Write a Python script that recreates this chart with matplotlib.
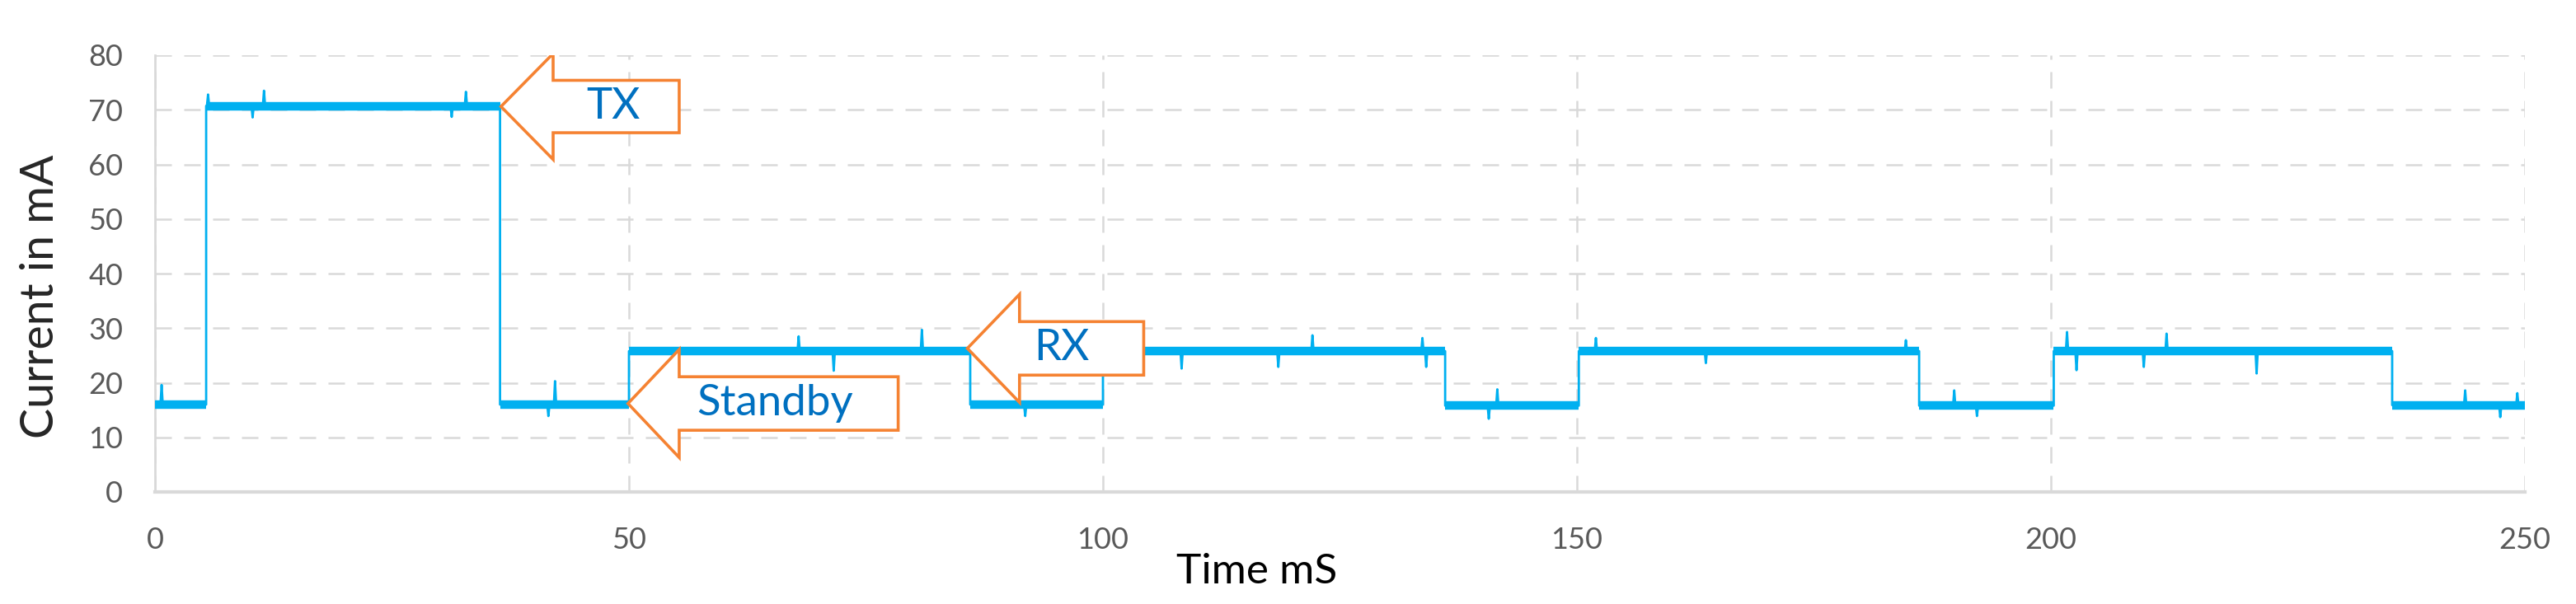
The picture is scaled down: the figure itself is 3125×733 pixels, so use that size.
import numpy as np
import matplotlib.pyplot as plt
from matplotlib.patches import Polygon

plt.rcParams.update({"font.family": ["Lato", "DejaVu Sans"]})

TRACE, ORANGE, LABEL, GRID, TICK = "#00B0F0", "#F58232", "#0070C0", "#D9D9D9", "#595959"

# --- data ---
# step edges (ms) and the current level (mA) held between them
edges = [0.0, 5.4, 36.4, 50.0, 86.0, 100.0, 136.1, 150.2, 186.1, 200.3, 236.0, 250.0]
levels = [16.0, 70.7, 16.0, 25.8, 16.0, 25.8, 15.8, 25.8, 15.8, 25.8, 15.9]
# the visible noise spikes / dips (ms, mA)
spike_t = [0.7, 5.6, 10.3, 11.5, 31.3, 32.8, 41.5, 42.2, 67.9, 71.6, 80.9, 91.8,
           108.3, 118.5, 122.1, 133.7, 134.1, 140.7, 141.6, 152.0, 163.6, 184.7,
           189.8, 192.2, 201.7, 202.7, 209.8, 212.2, 221.7, 243.7, 247.4, 249.2]
spike_v = [19.6, 72.8, 68.6, 73.5, 68.7, 73.3, 13.9, 20.3, 28.5, 22.2, 29.7, 13.9,
           22.6, 22.9, 28.7, 28.2, 22.9, 13.4, 18.8, 28.2, 23.6, 27.8,
           18.6, 13.9, 29.3, 22.3, 22.9, 29.0, 21.7, 18.6, 13.7, 18.1]
y_ticks = [0, 10, 20, 30, 40, 50, 60, 70, 80]
x_ticks = [0, 50, 100, 150, 200, 250]

# build the trace: flat segments with the spikes dropped in
xs, ys = [], []
for i, lvl in enumerate(levels):
    a, b = edges[i], edges[i + 1]
    xs.append(a); ys.append(lvl)
    for t, v in sorted(zip(spike_t, spike_v)):
        if a < t < b:
            xs += [t - 0.12, t, t + 0.12]; ys += [lvl, v, lvl]
    xs.append(b); ys.append(lvl)

fig = plt.figure(figsize=(31.25, 7.33), dpi=100)
ax = fig.add_axes([188 / 3125, 1 - 597 / 733, (3063 - 188) / 3125, (597 - 67) / 733])

for i, lvl in enumerate(levels):
    ax.plot([edges[i], edges[i + 1]], [lvl, lvl], color=TRACE, lw=7.5, solid_capstyle="butt", zorder=3)
ax.plot(xs, ys, color=TRACE, lw=2, zorder=3)

ax.set_xlim(0, 250); ax.set_ylim(0, 80)
ax.set_xticks(x_ticks); ax.set_yticks(y_ticks)
ax.grid(True, color=GRID, lw=1.8, ls=(0, (8, 6)))
ax.set_axisbelow(True)
for s in ["top", "right"]:
    ax.spines[s].set_visible(False)
ax.spines["left"].set_color(GRID); ax.spines["left"].set_linewidth(2)
ax.spines["bottom"].set_color(GRID); ax.spines["bottom"].set_linewidth(3)
ax.tick_params(axis="both", length=0, labelsize=26, labelcolor=TICK)
ax.tick_params(axis="y", pad=28)
ax.tick_params(axis="x", pad=30)

# block arrows: (tip x, tip y, head back x, tail x, head half-height, body half-height, text, text x)
arrows = [(36.5, 70.6, 42.0, 55.3, 9.7, 4.8, "TX", 48.3),
          (49.9, 16.2, 55.3, 78.4, 9.9, 4.9, "Standby", 65.4),
          (85.7, 26.3, 91.2, 104.3, 9.9, 4.9, "RX", 95.6)]
for tx, ty, hx, bx, hh, bh, lab, lx in arrows:
    pts = [(tx, ty), (hx, ty + hh), (hx, ty + bh), (bx, ty + bh),
           (bx, ty - bh), (hx, ty - bh), (hx, ty - hh)]
    ax.add_patch(Polygon(pts, closed=True, fc="white", ec=ORANGE, lw=2.6, zorder=5, joinstyle="miter"))
    ax.text(lx, ty, lab, color=LABEL, fontsize=38, ha="center", va="center", zorder=6)

fig.text(1525 / 3125, 1 - 694 / 733, "Time mS", fontsize=37, color="black", ha="center", va="center")
fig.text(50 / 3125, 1 - 360 / 733, "Current in mA", fontsize=40, color="#262626",
         ha="center", va="center", rotation=90)

fig.savefig("out.png", dpi=100)
